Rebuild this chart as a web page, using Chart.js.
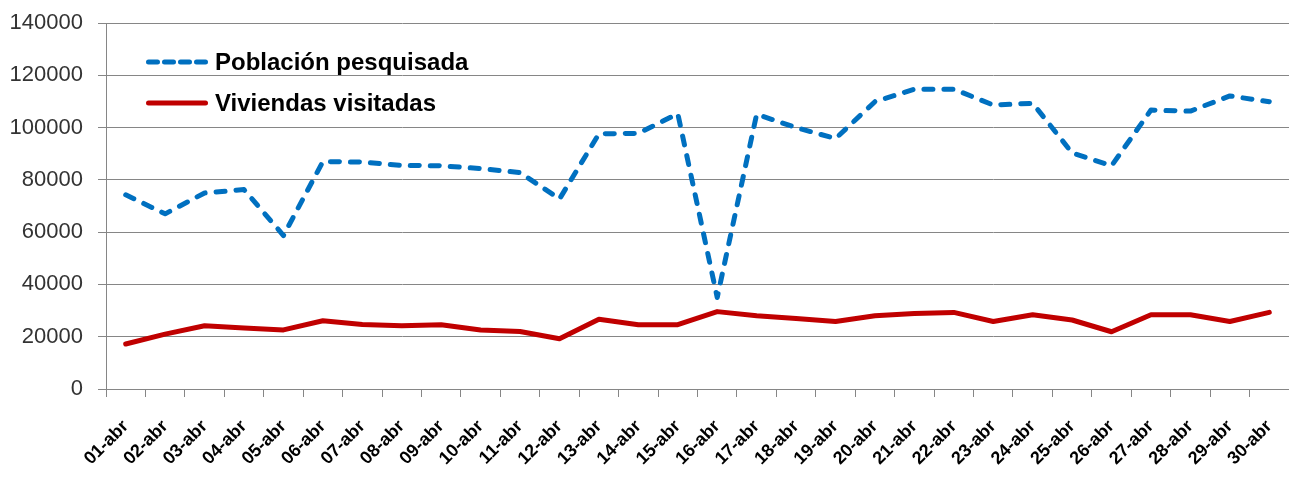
<!DOCTYPE html>
<html>
<head>
<meta charset="utf-8">
<script src="https://cdn.jsdelivr.net/npm/chart.js@4.4.1/dist/chart.umd.min.js"></script>
<style>
  html, body { margin: 0; padding: 0; background: #ffffff; }
  #wrap { position: relative; width: 1289px; height: 483px; overflow: hidden; }
  #c { position: absolute; left: 0; top: 0; }
  .leg { position: absolute; left: 146px; height: 24px; display: flex; align-items: center; }
  .leg svg { display: block; }
  .leg span { font-family: "Liberation Sans", Arial, sans-serif; font-weight: bold; font-size: 24px; line-height: 24px; color: #000; margin-left: 7px; white-space: nowrap; }
</style>
</head>
<body>
<div id="wrap">
  <canvas id="c" width="1289" height="483"></canvas>
  <div class="leg" style="top:50px;">
    <svg width="62" height="24"><line x1="2.5" y1="12" x2="60" y2="12" stroke="#0070C0" stroke-width="5" stroke-linecap="round" stroke-dasharray="9 7"/></svg>
    <span>Población pesquisada</span>
  </div>
  <div class="leg" style="top:91px;">
    <svg width="62" height="24"><line x1="2.5" y1="12" x2="59.5" y2="12" stroke="#C00000" stroke-width="5" stroke-linecap="round"/></svg>
    <span>Viviendas visitadas</span>
  </div>
</div>
<script>
const categories = ['01-abr','02-abr','03-abr','04-abr','05-abr','06-abr','07-abr','08-abr','09-abr','10-abr',
  '11-abr','12-abr','13-abr','14-abr','15-abr','16-abr','17-abr','18-abr','19-abr','20-abr',
  '21-abr','22-abr','23-abr','24-abr','25-abr','26-abr','27-abr','28-abr','29-abr','30-abr'];
const poblacionPesquisada = [74300, 67000, 75000, 76300, 58700, 87000, 86800, 85500, 85400, 84300,
  82800, 72700, 97600, 97800, 105300, 35000, 105100, 100000, 95800, 109900,
  114700, 114700, 108600, 109300, 90300, 85400, 106700, 106300, 112100, 109900];
const viviendasVisitadas = [17200, 21000, 24200, 23300, 22600, 26100, 24700, 24200, 24600, 22600,
  22000, 19200, 26700, 24600, 24600, 29600, 28000, 27000, 25800, 28000,
  28900, 29300, 25800, 28400, 26400, 21900, 28400, 28400, 25800, 29300];
const yMin = 0, yMax = 140000, yStep = 20000;

new Chart(document.getElementById('c'), {
  type: 'line',
  data: {
    labels: categories,
    datasets: [
      {
        label: 'Población pesquisada',
        data: poblacionPesquisada,
        borderColor: '#0070C0',
        borderWidth: 5,
        borderDash: [9, 11],
        borderCapStyle: 'round',
        borderJoinStyle: 'round',
        pointRadius: 0,
        tension: 0,
        fill: false
      },
      {
        label: 'Viviendas visitadas',
        data: viviendasVisitadas,
        borderColor: '#C00000',
        borderWidth: 5,
        borderCapStyle: 'round',
        borderJoinStyle: 'round',
        pointRadius: 0,
        tension: 0,
        fill: false
      }
    ]
  },
  options: {
    responsive: false,
    animation: false,
    devicePixelRatio: 1,
    layout: { padding: { top: 23, right: 0, left: 0, bottom: 0 } },
    plugins: { legend: { display: false }, tooltip: { enabled: false } },
    scales: {
      x: {
        offset: true,
        grid: { offset: true, drawOnChartArea: false, drawTicks: true, tickLength: 8, color: '#868686', lineWidth: 1 },
        border: { display: true, color: '#868686', width: 1 },
        ticks: {
          autoSkip: false,
          minRotation: 45,
          maxRotation: 45,
          padding: 19,
          color: '#000',
          font: { family: '"Liberation Sans", Arial, sans-serif', size: 18, weight: 'bold' }
        },
        afterFit: (s) => { s.height = 94; s.paddingLeft = 0; s.paddingRight = 0; }
      },
      y: {
        min: yMin,
        max: yMax,
        ticks: {
          stepSize: yStep,
          padding: 15,
          color: '#333',
          font: { family: '"Liberation Sans", Arial, sans-serif', size: 22 },
          callback: (v) => String(v)
        },
        grid: { color: '#868686', lineWidth: 1, tickLength: 8 },
        border: { display: true, color: '#868686', width: 1 },
        afterFit: (s) => { s.width = 106; s.paddingTop = 0; s.paddingBottom = 0; }
      }
    }
  }
});
</script>
</body>
</html>
